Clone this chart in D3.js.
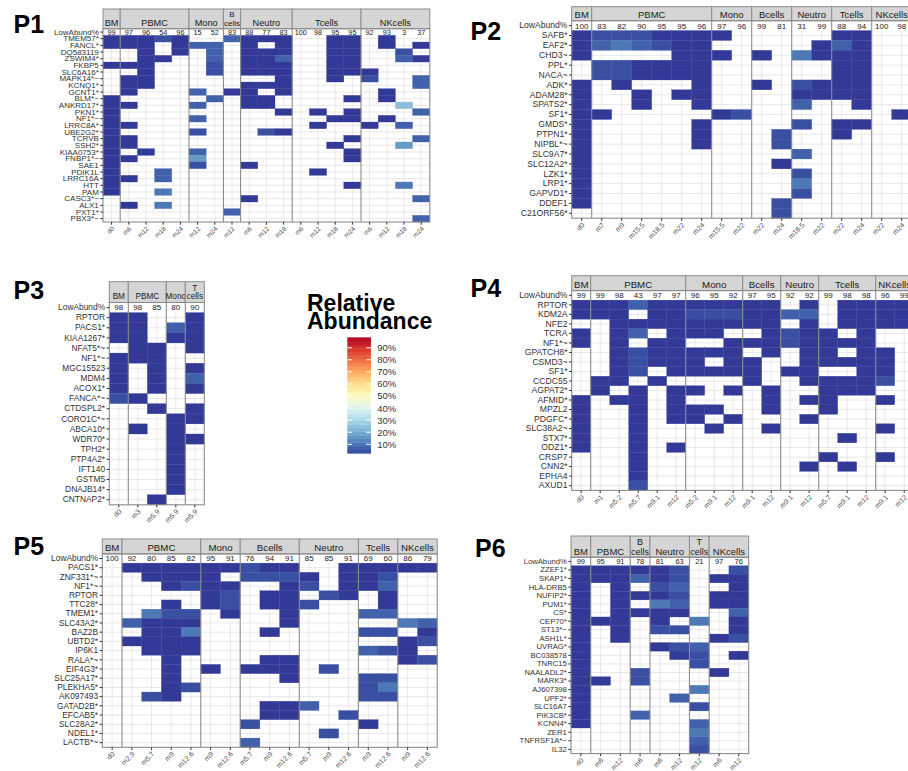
<!DOCTYPE html>
<html><head><meta charset="utf-8">
<script src="https://cdn.jsdelivr.net/npm/d3@7"></script>
<style>body{margin:0;background:#fff}svg{display:block}</style>
</head><body><svg id="c" width="908" height="771"></svg>
<script>
// ---------- DATA ----------
// cell codes -> relative abundance (%) read from the colour of each tile; "." = no tile
const levelPct = {"1":0.5,"2":4,"3":7,"4":11,"5":17,"6":24};
const legendTicks = [10,20,30,40,50,60,70,80,90];

const p1Groups = [["BM",["d0"]],["PBMC",["m6","m12","m18","m24"]],["Mono",["m12","m24"]],["B\ncells",["m12"]],["Neutro",["m6","m12","m18"]],["Tcells",["m6","m12","m18","m24"]],["NKcells",["m6","m12","m18","m24"]]];
const p1Low = [99,97,96,54,96,15,52,83,88,77,83,100,98,95,95,92,93,3,37];
const p1Genes = ["TMEM57*","FANCL*","DQ583119","ZSWIM4*","FKBP5","SLC6A16*","MAPK14*~","KCNQ1*","GCNT1*","BLM*~","ANKRD17*","PKN1*","NF1*~","LRRC8A*","UBE2G2*","TCRVB","SSH2*","KIAA0753*","FNBP1*~","SAE1","PDIK1L","LRRC16A","HTT","PAM","CASC3*~","ALX1","PXT1*","PBX3*~"];
const p1Cells = [
"11121..3111..11.1..","111.133.1.1..11.1.1","..1.1.3.111..11..2.","..11..3.113..11..31",
"111...2.111..11....","..1...2.111..111...",".11.......1..1.2..3",".11.....111.......3",
".1...3.11.1.....1..","1.....3.11....1.1..","11...3..11.......6.","1.........1.1.1...3",
"1....3.......11.1..","11..........1..1.3.","1....2...21........","11............1...3",
"11...........1...5.","1.1..3........1....","11...5........1....","1....2..1..........",
"1..3........1......","11.3...............","1.............1..4.","1..4...............",
"........1.........3",".1.4...............",".......3...........","..................3"];

const p2Groups = [["BM",["d0"]],["PBMC",["m7","m9","m15.5","m18.5","m22","m24"]],["Mono",["m15.5","m22"]],["Bcells",["m22","m24"]],["Neutro",["m18.5","m22"]],["Tcells",["m22","m24"]],["NKcells",["m22","m24"]]];
const p2Low = [100,83,82,90,95,95,96,97,96,99,81,31,99,88,94,100,98];
const p2Genes = ["SAFB*","EAF2*","CHD3~","PPL*","NACA~","ADK*","ADAM28*","SPATS2*","SF1*","GMDS*","PTPN1*","NIPBL*~","SLC9A7*","SLC12A2*","LZK1*","LRP1*","GAPVD1*","DDEF1","C21ORF56*"];
const p2Cells = [
"12221111.....11..","1343211.....131..","1....111.1.4111..",".221111......11..",
".221111......11..","1.1...1..1.2111..","1..1.11....1111..","1..1..1....3..1..",
"11.....12.......1","1.....1....2.11..","1.....1...2..1...","1.....1...2......",
"1..........3.....","1.........1......","1..........2.....","1..........4.....",
"1..........2.....","1.........2......","..........2......"];

const p3Groups = [["BM",["d0"]],["PBMC",["m3","m5.9"]],["Mono",["m5.9"]],["T\ncells",["m5.9"]]];
const p3Low = [98,98,85,80,90];
const p3Genes = ["RPTOR","PACS1*","KIAA1267*","NFAT5*~","NF1*~","MGC15523","MDM4","ACOX1*","FANCA*~","CTDSPL2*","CORO1C*~","ABCA10*","WDR70*","TPH2*","PTP4A2*","IFT140","GSTM5","DNAJB14*","CNTNAP2*"];
const p3Cells = ["11..1","11.31","11.11",".11.1","111..","1.1.1","1.1.3","1.1.1","21...","..1.1",
"...11",".1.1.","...11","...1.","...1.","...1.","...1.","...1.","..1.."];

const p4Groups = [["BM",["d0"]],["PBMC",["m1","m5.2","m5.7","m9.1","m12"]],["Mono",["m5.2","m9.1","m12"]],["Bcells",["m9.1","m12"]],["Neutro",["m9.1","m12"]],["Tcells",["m5.7","m9.1","m12"]],["NKcells",["m9.1","m12"]]];
const p4Low = [99,99,98,43,97,97,96,95,92,97,95,92,92,99,98,98,96,99];
const p4Genes = ["RPTOR","KDM2A","NFE2","TCRA","NF1*~","GPATCH8*","CSMD3~","SF1*","CCDC55","AGPAT2*","AFMID*","MPZL2","PDGFC*","SLC38A2~","STX7*","ODZ1*","CRSP7","CNN2*","EPHA4","AXUD1"];
const p4Cells = [
"11131111111.1.1111","111.112221133.1111","..111111111.1.1111","1.13.111..1211.1..",
"1.1.11..11121111..","..1211111.1.11.11.","..12111.11..11111.","..12.11111.11..11.",
".11.1....1..11112.",".1.1.11.1.1..111..","1.11.1....1.11..1.","1..1.111..1..1....",
"1..1.11.1...1.....","1..1...1..1.....1.","1..1..........1...","1..1.1............",
"...1.........1..1.","...1........1.1...","...1..............","...2.............."];

const p5Groups = [["BM",["d0"]],["PBMC",["m2.9","m5.7","m9","m12.6"]],["Mono",["m9","m12.6"]],["Bcells",["m5.7","m9","m12.6"]],["Neutro",["m5.7","m9","m12.6"]],["Tcells",["m9","m12.6"]],["NKcells",["m9","m12.6"]]];
const p5Low = [100,92,80,85,82,95,91,76,94,91,85,85,91,69,60,86,79];
const p5Genes = ["PACS1*","ZNF331*~","NF1*~","RPTOR","TTC28*","TMEM1*","SLC43A2*","BAZ2B","UBTD2*","IP6K1","RALA*~","EIF4G3*","SLC25A17*","PLEKHA5*","AK097493","GATAD2B*","EFCAB5*","SLC28A2*","NDEL1*","LACTB*~"];
const p5Cells = [
".111111211..11111","..1111.2221.112..","...1211..12.113..",".....12.11.21.1..",
"...1.12.112...1..","..422.1..1...33..",".3111....1.....43","..114...1....22.1",
".1111..........12","..111........321.","...1....11.....12","...1.1.111.2.....",
"...1.....1...22..","...12........24..","..21.........22..","........113......",
"........11..2....",".......2.....1...","...........2.....",".......3........."];

const p6Groups = [["BM",["d0"]],["PBMC",["m6","m12"]],["B\ncells",["m6"]],["Neutro",["m6","m12"]],["T\ncells",["m12"]],["NKcells",["m6","m12"]]];
const p6Low = [99,95,91,78,81,63,21,97,76];
const p6Genes = ["ZZEF1*","SKAP1*","HLA-DRB5","NUFIP2*","PUM1*","CS*","CEP70*","ST13*~","ASH1L*","UVRAG*","BC038578","TNRC15","NAALADL2*","MARK3*","AJ607398","UPF2*","SLC16A7","PIK3CB*","KCNN4*","ZER1","TNFRSF1A*~","IL32"];
const p6Cells = ["111112..2","111312.11","1.1.23..1","1.1112.11","1.1.43.11","1.1111..3","111.1.4.1",
"1.1.22..1","1.1....12","1...123..","1....12.1","1.....2..","1..2...1.","11.2.....","1.....4..",
"1....3...","1.....2..","1..3.....","1.....3..","......4..","......3..","......2.."];

// ---------- LAYOUT ----------
const FONT = '"Liberation Sans", Arial, Helvetica, sans-serif';
const panels = [
 {name:"P1", groups:p1Groups, low:p1Low, genes:p1Genes, cells:p1Cells,
  L:{left:103, colW:17.2, stripTop:9, yTop:28.7, yBot:222, yFs:8, lowFs:7.3, xFs:6.5, stripFs:9.2, single:26.2, line1:17.3, line2:26.2, stripFs2:8, tx:13.5, ty:32.8}},
 {name:"P2", groups:p2Groups, low:p2Low, genes:p2Genes, cells:p2Cells,
  L:{left:571.7, colW:20, stripTop:6.7, yTop:20.7, yBot:218.2, yFs:8.6, lowFs:8, xFs:7, stripFs:9.5, single:18.2, tx:470.5, ty:40}},
 {name:"P3", groups:p3Groups, low:p3Low, genes:p3Genes, cells:p3Cells,
  L:{left:109.3, colW:19, stripTop:281.7, yTop:302.5, yBot:504.8, yFs:8.4, lowFs:8, xFs:7, stripFs:8.2, single:299, line1:290.5, line2:299, stripFs2:8.2, tx:13.5, ty:298.5}},
 {name:"P4", groups:p4Groups, low:p4Low, genes:p4Genes, cells:p4Cells,
  L:{left:571.7, colW:19, stripTop:275.7, yTop:290.6, yBot:490.4, yFs:8.6, lowFs:8, xFs:7, stripFs:9.7, single:287.6, tx:470.5, ty:297.3}},
 {name:"P5", groups:p5Groups, low:p5Low, genes:p5Genes, cells:p5Cells,
  L:{left:102.3, colW:19.7, stripTop:539, yTop:553.9, yBot:747.3, yFs:8.4, lowFs:8, xFs:7, stripFs:9.7, single:551.2, tx:13.5, ty:555.2}},
 {name:"P6", groups:p6Groups, low:p6Low, genes:p6Genes, cells:p6Cells,
  L:{left:571, colW:19.74, stripTop:536, yTop:557.2, yBot:753.6, yFs:7.7, lowFs:7.5, xFs:7, stripFs:9.5, single:554.6, line1:545.2, line2:554.6, stripFs2:9, tx:475, ty:557.3}}
];

const svg = d3.select("#c");
svg.append("rect").attr("width",908).attr("height",771).attr("fill","#fff");
const colorScale = d3.scaleSequential(t => d3.interpolateRdYlBu(1 - t)).domain([0, 100]);

function drawPanel(P) {
  const L = P.L;
  const g = svg.append("g").attr("font-family", FONT);
  const cols = [];
  P.groups.forEach((gr, gi) => gr[1].forEach(t => cols.push({key: gi + ":" + t, gi, t})));
  const right = L.left + L.colW * cols.length;
  const x = d3.scaleBand().domain(cols.map(c => c.key)).range([L.left, right]);
  const rows = ["LowAbund%", ...P.genes];
  const y = d3.scaleBand().domain(rows).range([L.yTop, L.yBot]);
  const bw = x.bandwidth(), bh = y.bandwidth();
  const y0 = y(P.genes[0]);

  g.append("text").attr("x", L.tx).attr("y", L.ty).attr("font-size", 25).attr("font-weight", "bold")
    .attr("fill", "#000").text(P.name);

  g.append("g").selectAll("line").data(cols).join("line")
    .attr("x1", c => x(c.key) + bw/2).attr("x2", c => x(c.key) + bw/2)
    .attr("y1", y0).attr("y2", L.yBot).attr("stroke", "#e2e2e2").attr("stroke-width", 0.8);
  g.append("g").selectAll("line").data(P.genes).join("line")
    .attr("x1", L.left).attr("x2", right)
    .attr("y1", d => y(d) + bh/2).attr("y2", d => y(d) + bh/2)
    .attr("stroke", "#e2e2e2").attr("stroke-width", 0.8);

  const cells = [];
  P.cells.forEach((row, ri) => [...row].forEach((ch, ci) => {
    if (levelPct[ch] !== undefined) cells.push({gene: P.genes[ri], col: cols[ci].key, v: levelPct[ch]});
  }));
  g.append("g").selectAll("rect").data(cells).join("rect")
    .attr("x", d => x(d.col)).attr("y", d => y(d.gene))
    .attr("width", bw).attr("height", bh)
    .attr("fill", d => colorScale(d.v)).attr("stroke", d => colorScale(d.v)).attr("stroke-width", 0.3);

  g.append("g").selectAll("text").data(cols).join("text")
    .attr("x", (c) => x(c.key) + bw/2).attr("y", y("LowAbund%") + bh/2)
    .attr("dy", "0.36em").attr("text-anchor", "middle").attr("font-size", L.lowFs).attr("fill", "#1a1a1a")
    .text((c, i) => P.low[i]);

  const starts = P.groups.map((gr, gi) => cols.findIndex(c => c.gi === gi));
  const gstart = gi => x(cols[starts[gi]].key);
  const gend = gi => gi < P.groups.length - 1 ? gstart(gi + 1) : right;

  const strips = g.append("g");
  P.groups.forEach((gr, gi) => {
    const x1 = gstart(gi), x2 = gend(gi);
    strips.append("rect").attr("x", x1).attr("y", L.stripTop).attr("width", x2 - x1).attr("height", L.yTop - L.stripTop)
      .attr("fill", "#d5d5d5").attr("stroke", "#8c8c8c").attr("stroke-width", 1);
    const lines = gr[0].split("\n");
    const cx = (x1 + x2) / 2;
    if (lines.length === 2) {
      strips.append("text").attr("x", cx).attr("y", L.line1).attr("text-anchor", "middle").attr("font-size", L.stripFs2).attr("fill", "#1a1a1a").text(lines[0]);
      strips.append("text").attr("x", cx).attr("y", L.line2).attr("text-anchor", "middle").attr("font-size", L.stripFs2).attr("fill", "#1a1a1a").text(lines[1]);
    } else {
      strips.append("text").attr("x", cx).attr("y", L.single).attr("text-anchor", "middle").attr("font-size", L.stripFs).attr("fill", "#1a1a1a").text(lines[0]);
    }
  });
  P.groups.forEach((gr, gi) => {
    if (gi === 0) return;
    g.append("line").attr("x1", gstart(gi)).attr("x2", gstart(gi)).attr("y1", L.yTop).attr("y2", L.yBot)
      .attr("stroke", "#8c8c8c").attr("stroke-width", 1.1);
  });
  g.append("rect").attr("x", L.left).attr("y", L.yTop).attr("width", right - L.left).attr("height", L.yBot - L.yTop)
    .attr("fill", "none").attr("stroke", "#8c8c8c").attr("stroke-width", 1.1);

  const ay = g.append("g").attr("transform", `translate(${L.left},0)`)
    .call(d3.axisLeft(y).tickSize(2.7).tickPadding(1.5));
  ay.select(".domain").remove();
  ay.attr("font-family", FONT).attr("font-size", L.yFs);
  ay.selectAll(".tick line").attr("stroke", "#333");
  ay.selectAll(".tick text").attr("fill", "#333");

  const ax = g.append("g").attr("transform", `translate(0,${L.yBot})`)
    .call(d3.axisBottom(x).tickSize(2.7).tickFormat(k => k.slice(k.indexOf(":") + 1)));
  ax.select(".domain").remove();
  ax.attr("font-family", FONT).attr("font-size", L.xFs);
  ax.selectAll(".tick line").attr("stroke", "#333");
  ax.selectAll(".tick text").attr("fill", "#4d4d4d")
    .attr("y", null).attr("x", null).attr("dy", "0.35em")
    .attr("text-anchor", "end").attr("transform", "translate(1.5,5.5) rotate(-45)");
}

panels.forEach(drawPanel);

// ---------- LEGEND ----------
const lg = svg.append("g").attr("font-family", FONT);
lg.append("text").attr("x", 307).attr("y", 310.5).attr("font-size", 23).attr("font-weight", "bold").attr("fill", "#000").text("Relative");
lg.append("text").attr("x", 307).attr("y", 329).attr("font-size", 23).attr("font-weight", "bold").attr("fill", "#000").text("Abundance");
const ly = d3.scaleLinear().domain([0, 100]).range([456.4, 335.65]);
const barX = 347.3, barW = 23.7, vMin = 2.6, vMax = 98.6, nBins = 32;
const bins = d3.range(nBins).map(i => vMin + (vMax - vMin) * i / nBins);
const step = (vMax - vMin) / nBins;
lg.append("g").selectAll("rect").data(bins).join("rect")
  .attr("x", barX).attr("width", barW)
  .attr("y", v => ly(v + step)).attr("height", v => ly(v) - ly(v + step) + 0.4)
  .attr("fill", v => colorScale(v + step / 2));
lg.append("g").selectAll("line").data(legendTicks).join("line")
  .attr("x1", barX).attr("x2", barX + 4.8).attr("y1", v => ly(v)).attr("y2", v => ly(v))
  .attr("stroke", "#fff").attr("stroke-width", 1);
lg.append("g").selectAll("line").data(legendTicks).join("line")
  .attr("x1", barX + barW - 4.8).attr("x2", barX + barW).attr("y1", v => ly(v)).attr("y2", v => ly(v))
  .attr("stroke", "#fff").attr("stroke-width", 1);
lg.append("g").selectAll("text").data(legendTicks).join("text")
  .attr("x", 377.3).attr("y", v => ly(v)).attr("dy", "0.36em").attr("font-size", 9.5).attr("fill", "#333")
  .text(v => v + "%");
</script></body></html>
